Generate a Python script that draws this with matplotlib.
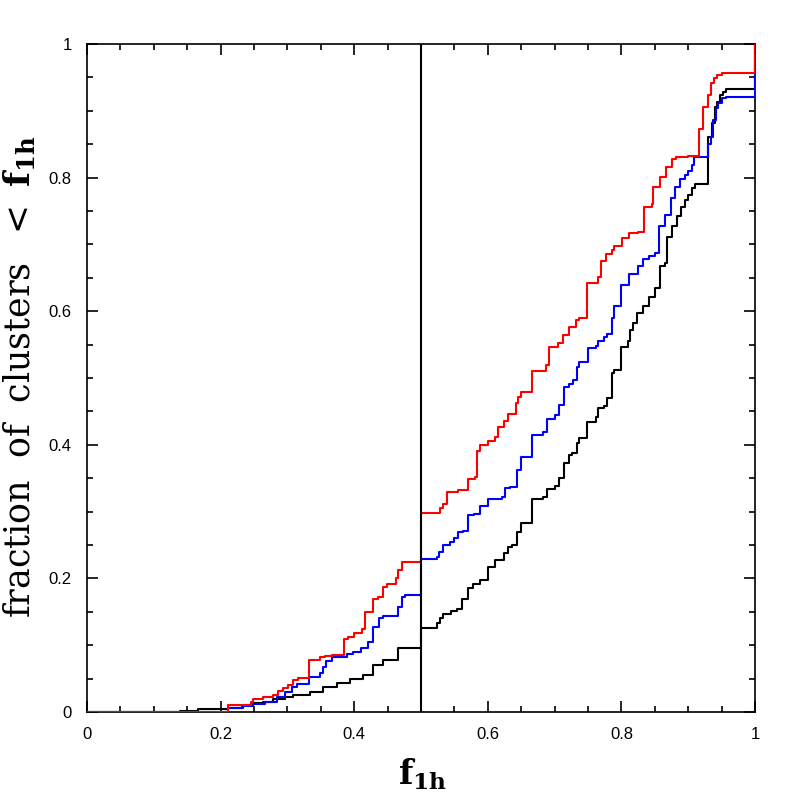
import matplotlib
matplotlib.use('Agg')
import matplotlib.pyplot as plt
import numpy as np

# cumulative fraction of clusters below f_1h
redX = [0, 0.211, 0.246, 0.249, 0.263, 0.278, 0.286, 0.293, 0.301, 0.308, 0.316,
        0.332, 0.349, 0.356, 0.367, 0.385, 0.391, 0.400, 0.412, 0.416, 0.428,
        0.436, 0.443, 0.449, 0.463, 0.466, 0.472, 0.5, 0.528, 0.533, 0.539,
        0.555, 0.570, 0.581, 0.584, 0.588, 0.600, 0.611, 0.615, 0.624, 0.630,
        0.642, 0.645, 0.650, 0.666, 0.687, 0.692, 0.705, 0.713, 0.722, 0.732,
        0.737, 0.749, 0.765, 0.769, 0.777, 0.786, 0.789, 0.801, 0.811, 0.825,
        0.834, 0.846, 0.847, 0.858, 0.867, 0.876, 0.882, 0.900, 0.916, 0.922,
        0.930, 0.934, 0.939, 0.943, 0.951, 1.0]
redY = [0, 0.010, 0.015, 0.019, 0.022, 0.025, 0.031, 0.036, 0.040, 0.048, 0.051,
        0.078, 0.082, 0.084, 0.085, 0.109, 0.112, 0.118, 0.124, 0.150, 0.169,
        0.172, 0.187, 0.192, 0.200, 0.213, 0.225, 0.298, 0.305, 0.311, 0.329,
        0.332, 0.349, 0.352, 0.391, 0.400, 0.406, 0.412, 0.427, 0.436, 0.446,
        0.463, 0.472, 0.479, 0.510, 0.519, 0.546, 0.553, 0.564, 0.576, 0.587,
        0.590, 0.642, 0.651, 0.675, 0.686, 0.692, 0.698, 0.710, 0.717, 0.719,
        0.756, 0.760, 0.786, 0.801, 0.816, 0.828, 0.831, 0.832, 0.873, 0.906,
        0.924, 0.942, 0.949, 0.954, 0.957, 1.0]

blueX = [0, 0.211, 0.232, 0.249, 0.266, 0.284, 0.296, 0.307, 0.314, 0.332, 0.349,
         0.353, 0.358, 0.367, 0.389, 0.398, 0.410, 0.421, 0.428, 0.437, 0.443,
         0.466, 0.472, 0.476, 0.5, 0.524, 0.527, 0.533, 0.543, 0.549, 0.555,
         0.563, 0.570, 0.579, 0.588, 0.600, 0.621, 0.626, 0.633, 0.644, 0.650,
         0.666, 0.683, 0.689, 0.701, 0.707, 0.714, 0.722, 0.728, 0.734, 0.737,
         0.750, 0.762, 0.765, 0.774, 0.778, 0.786, 0.789, 0.799, 0.811, 0.825,
         0.832, 0.841, 0.850, 0.856, 0.865, 0.874, 0.880, 0.888, 0.895, 0.900,
         0.906, 0.909, 0.930, 0.934, 0.937, 0.942, 0.945, 0.951, 0.957, 1.0]
blueY = [0, 0.006, 0.009, 0.012, 0.015, 0.022, 0.030, 0.037, 0.042, 0.052, 0.058,
         0.067, 0.076, 0.082, 0.087, 0.090, 0.096, 0.105, 0.127, 0.141, 0.143,
         0.157, 0.172, 0.175, 0.229, 0.232, 0.240, 0.250, 0.254, 0.260, 0.269,
         0.271, 0.295, 0.297, 0.308, 0.319, 0.322, 0.335, 0.337, 0.362, 0.381,
         0.415, 0.419, 0.438, 0.445, 0.460, 0.487, 0.491, 0.497, 0.516, 0.524,
         0.545, 0.548, 0.555, 0.561, 0.566, 0.590, 0.608, 0.639, 0.656, 0.668,
         0.678, 0.683, 0.687, 0.728, 0.744, 0.769, 0.786, 0.798, 0.804, 0.810,
         0.819, 0.831, 0.850, 0.861, 0.886, 0.904, 0.912, 0.919, 0.921, 1.0]

blackX = [0, 0.139, 0.166, 0.211, 0.234, 0.249, 0.263, 0.278, 0.296, 0.308, 0.334,
          0.353, 0.374, 0.394, 0.413, 0.428, 0.443, 0.466, 0.5, 0.524, 0.528,
          0.533, 0.545, 0.554, 0.561, 0.570, 0.578, 0.588, 0.600, 0.611, 0.624,
          0.630, 0.636, 0.644, 0.650, 0.666, 0.683, 0.689, 0.701, 0.707, 0.714,
          0.722, 0.726, 0.734, 0.737, 0.749, 0.762, 0.765, 0.774, 0.778, 0.786,
          0.789, 0.799, 0.810, 0.813, 0.817, 0.823, 0.832, 0.841, 0.850, 0.858,
          0.865, 0.868, 0.876, 0.883, 0.889, 0.895, 0.900, 0.906, 0.910, 0.930,
          0.936, 0.940, 0.943, 0.948, 0.952, 0.957, 1.0]
blackY = [0, 0.002, 0.004, 0.006, 0.010, 0.013, 0.015, 0.019, 0.022, 0.025, 0.030,
          0.037, 0.043, 0.049, 0.055, 0.070, 0.078, 0.096, 0.126, 0.133, 0.141,
          0.147, 0.151, 0.154, 0.169, 0.186, 0.192, 0.198, 0.217, 0.228, 0.238,
          0.247, 0.250, 0.269, 0.283, 0.319, 0.322, 0.334, 0.338, 0.350, 0.373,
          0.385, 0.388, 0.403, 0.410, 0.434, 0.441, 0.455, 0.458, 0.470, 0.507,
          0.512, 0.546, 0.555, 0.572, 0.582, 0.597, 0.608, 0.622, 0.635, 0.668,
          0.672, 0.711, 0.727, 0.743, 0.756, 0.766, 0.774, 0.784, 0.790, 0.861,
          0.882, 0.906, 0.913, 0.924, 0.928, 0.932, 1.0]

tickVals = [0, 0.2, 0.4, 0.6, 0.8, 1]
tickLabels = ['0', '0.2', '0.4', '0.6', '0.8', '1']

plt.rcParams['font.family'] = ['Liberation Sans', 'DejaVu Sans']
plt.rcParams['mathtext.fontset'] = 'dejavuserif'

fig = plt.figure(figsize=(7.97, 7.97), dpi=100)
ax = fig.add_axes([87 / 797, 85 / 797, 668 / 797, 668 / 797])

ax.step(blackX, blackY, where='post', color='black', linewidth=1.5, zorder=2)
ax.step(blueX, blueY, where='post', color='blue', linewidth=1.5, zorder=3)
ax.step(redX, redY, where='post', color='red', linewidth=1.5, zorder=4)
ax.axvline(0.5, color='black', linewidth=1.5, zorder=5)

ax.set_xlim(0, 1)
ax.set_ylim(0, 1)
ax.set_xticks(tickVals)
ax.set_xticklabels(tickLabels)
ax.set_yticks(tickVals)
ax.set_yticklabels(tickLabels)
ax.set_xticks(np.arange(0, 1.001, 0.05), minor=True)
ax.set_yticks(np.arange(0, 1.001, 0.05), minor=True)
ax.tick_params(which='both', direction='in', top=True, right=True, width=1.2, labelsize=12, pad=11)
ax.tick_params(which='major', length=8)
ax.tick_params(which='minor', length=4.5)
for sp in ax.spines.values():
    sp.set_linewidth(1.2)

# axis titles in a serif face, placed by hand like the original
fig.text(423 / 797, 1 - 774 / 797, r'$\mathbf{f_{1h}}$', fontsize=24, ha='center', va='center')
fig.text(20 / 797, 1 - 377 / 797, r'fraction  of  clusters  $<$ $\mathbf{f_{1h}}$',
         family=['DejaVu Serif'], fontsize=25, rotation=90, ha='center', va='center')

fig.savefig('out.png', dpi=100)
